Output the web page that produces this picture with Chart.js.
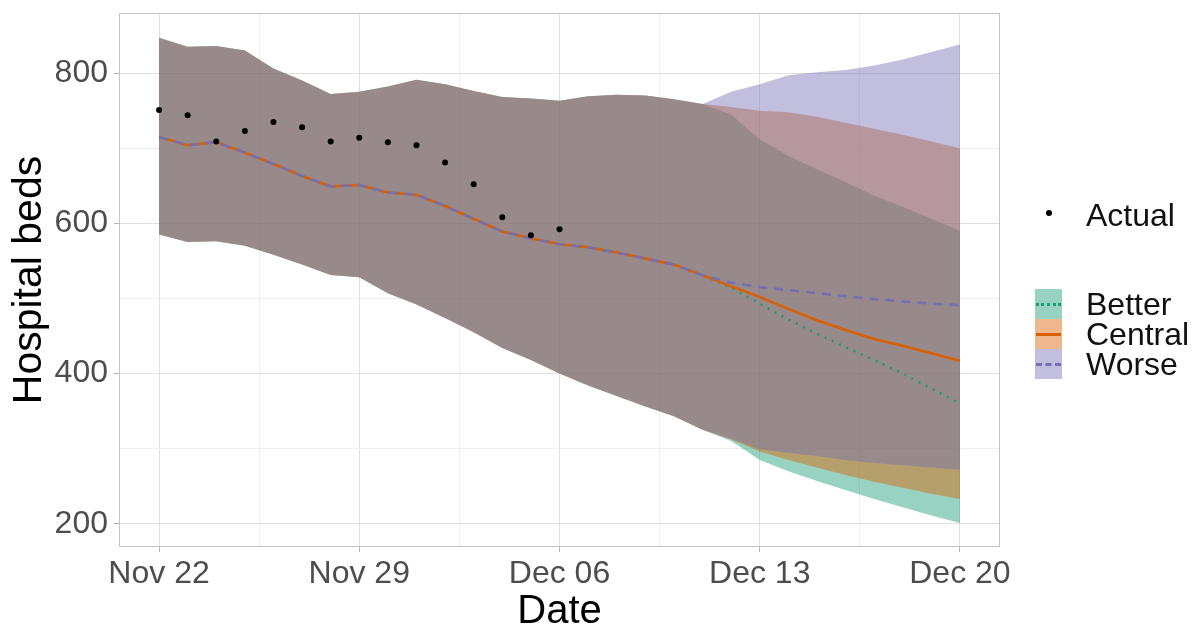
<!DOCTYPE html>
<html>
<head>
<meta charset="utf-8">
<script src="https://cdn.jsdelivr.net/npm/chart.js@4/dist/chart.umd.min.js"></script>
<style>
  body { margin: 0; background: #fff; font-family: "Liberation Sans", Arial, sans-serif; }
  #wrap { position: relative; width: 1193px; height: 628px; }
  .lg-text { position: absolute; left: 1086px; font-size: 32px; color: #111; line-height: 1; transform: translateY(-50%); white-space: nowrap; }
  .lg-key { position: absolute; left: 1035px; width: 27px; height: 30px; }
  .lg-key div { position: absolute; left: 1px; right: 1px; top: 14px; height: 0; }
</style>
</head>
<body>
<div id="wrap">
  <canvas id="beds" width="1193" height="628"></canvas>
  <div style="position:absolute;left:1046px;top:210px;width:6px;height:6px;border-radius:3px;background:#000"></div>
  <div class="lg-text" style="top:215px">Actual</div>
  <div class="lg-key" style="top:289px;background:rgba(27,158,119,0.45)"><div style="border-top:3px dotted #1B9E77"></div></div>
  <div class="lg-key" style="top:319px;background:rgba(217,95,2,0.45)"><div style="border-top:3px solid #D95F02"></div></div>
  <div class="lg-key" style="top:349px;background:rgba(117,112,179,0.45)"><div style="border-top:3px dashed #7570B3"></div></div>
  <div class="lg-text" style="top:304px">Better</div>
  <div class="lg-text" style="top:334px">Central</div>
  <div class="lg-text" style="top:364px">Worse</div>
</div>
<script>
// day 0 = Nov 22, one value per day
const dateLabels = ['Nov 22', 'Nov 29', 'Dec 06', 'Dec 13', 'Dec 20'];

const actual = [751, 744, 709, 723, 735, 728, 709, 714, 708, 704, 681, 652, 608, 584, 592];

const central = [715, 704, 708, 694, 679, 663, 649, 651, 641, 638, 623, 606, 589, 580, 572, 568, 561, 553, 545, 531,
                 516, 502, 486, 471, 458, 446, 437, 427, 417];
const better  = [715, 704, 708, 694, 679, 663, 649, 651, 641, 638, 623, 606, 589, 580, 572, 568, 561, 553, 545, 531,
                 514, 493, 472, 453, 435, 418, 400, 380, 360];
const worse   = [715, 704, 708, 694, 679, 663, 649, 651, 641, 638, 623, 606, 589, 580, 572, 568, 561, 553, 545, 531,
                 521, 515, 511, 507, 503, 499, 496, 493, 491];

const betterUpper  = [847, 835, 836, 830, 806, 790, 772, 775, 782, 791, 785, 776, 768, 766, 763, 769, 771, 770, 765, 759,
                      745, 712, 690, 672, 655, 637, 622, 606, 590];
const betterLower  = [585, 575, 576, 570, 558, 545, 531, 528, 507, 492, 474, 455, 434, 418, 400, 384, 370, 356, 343, 325,
                      310, 285, 270, 257, 245, 233, 222, 211, 201];
const centralUpper = [847, 835, 836, 830, 806, 790, 772, 775, 782, 791, 785, 776, 768, 766, 763, 769, 771, 770, 765, 759,
                      755, 750, 748, 742, 734, 726, 718, 709, 700];
const centralLower = [585, 575, 576, 570, 558, 545, 531, 528, 507, 492, 474, 455, 434, 418, 400, 384, 370, 356, 343, 325,
                      312, 296, 285, 275, 265, 256, 248, 240, 233];
const worseUpper   = [847, 835, 836, 830, 806, 790, 772, 775, 782, 791, 785, 776, 768, 766, 763, 769, 771, 770, 765, 759,
                      775, 785, 797, 801, 804, 810, 818, 828, 838];
const worseLower   = [585, 575, 576, 570, 558, 545, 531, 528, 507, 492, 474, 455, 434, 418, 400, 384, 370, 356, 343, 325,
                      313, 299, 294, 290, 285, 281, 278, 275, 272];

const yTicks = [200, 300, 400, 500, 600, 700, 800];
const yLabels = [200, 400, 600, 800];

const green = '#1B9E77', orange = '#D95F02', purple = '#7570B3';

const pts = arr => arr.map((v, i) => ({x: i, y: v}));

function ribbon(name, upper, lower, col, ord) {
    return [
        {label: name + ' upper', data: pts(upper), borderWidth: 0, pointRadius: 0,
         backgroundColor: col, fill: '+1', order: ord},
        {label: name + ' lower', data: pts(lower), borderWidth: 0, pointRadius: 0,
         fill: false, order: ord}
    ];
}

const panelBorder = {
    id: 'panelBorder',
    afterDraw(chart) {
        const {ctx, chartArea: a} = chart;
        ctx.save();
        ctx.strokeStyle = '#c4c4c4';
        ctx.lineWidth = 1;
        ctx.strokeRect(Math.round(a.left) + 0.5, Math.round(a.top) + 0.5,
                       Math.round(a.right - a.left) - 1, Math.round(a.bottom - a.top) - 1);
        ctx.restore();
    }
};

const isMajorX = v => Math.abs(v % 7) < 1e-6;
const isMajorY = v => v % 200 === 0;

new Chart(document.getElementById('beds'), {
    type: 'line',
    data: {
        datasets: [
            ...ribbon('Better', betterUpper, betterLower, 'rgba(27,158,119,0.45)', 12),
            ...ribbon('Central', centralUpper, centralLower, 'rgba(217,95,2,0.45)', 11),
            ...ribbon('Worse', worseUpper, worseLower, 'rgba(117,112,179,0.45)', 10),
            {label: 'Better', data: pts(better), borderColor: green, borderWidth: 2.6,
             borderDash: [2, 6], pointRadius: 0, fill: false, order: 5},
            {label: 'Central', data: pts(central), borderColor: orange, borderWidth: 2.6,
             pointRadius: 0, fill: false, order: 4},
            {label: 'Worse', data: pts(worse), borderColor: purple, borderWidth: 2.6,
             borderDash: [9, 7], pointRadius: 0, fill: false, order: 3},
            {label: 'Actual', data: pts(actual), showLine: false, pointRadius: 3,
             pointBackgroundColor: '#000', pointBorderWidth: 0, order: 0}
        ]
    },
    options: {
        responsive: false,
        animation: false,
        devicePixelRatio: 1,
        layout: {padding: {top: 13, right: 193, left: 0, bottom: 0}},
        elements: {line: {tension: 0}},
        plugins: {legend: {display: false}, tooltip: {enabled: false}},
        scales: {
            x: {
                type: 'linear', min: -1.4, max: 29.4,
                afterBuildTicks: s => { s.ticks = [0, 3.5, 7, 10.5, 14, 17.5, 21, 24.5, 28].map(v => ({value: v})); },
                afterFit: s => { s.height = 81; s.paddingLeft = 0; s.paddingRight = 0; },
                ticks: {
                    autoSkip: false, maxRotation: 0, padding: 3, color: '#4d4d4d',
                    font: {family: 'Liberation Sans', size: 32},
                    callback: v => isMajorX(v) ? dateLabels[v / 7] : ''
                },
                grid: {
                    color: c => isMajorX(c.tick.value) ? '#e0e0e0' : '#efefef',
                    tickColor: c => isMajorX(c.tick.value) ? '#b5b5b5' : 'rgba(0,0,0,0)',
                    tickLength: 5
                },
                border: {display: false},
                title: {display: true, text: 'Date', color: '#000',
                        font: {family: 'Liberation Sans', size: 40, lineHeight: 0.8}, padding: {top: 0, bottom: 0}}
            },
            y: {
                type: 'linear', min: 169, max: 880,
                afterBuildTicks: s => { s.ticks = yTicks.map(v => ({value: v})); },
                afterFit: s => { s.width = 119; s.paddingTop = 0; s.paddingBottom = 0; },
                ticks: {
                    padding: 6, color: '#4d4d4d',
                    font: {family: 'Liberation Sans', size: 32},
                    callback: v => yLabels.includes(v) ? String(v) : ''
                },
                grid: {
                    color: c => isMajorY(c.tick.value) ? '#e0e0e0' : '#efefef',
                    tickColor: c => isMajorY(c.tick.value) ? '#b5b5b5' : 'rgba(0,0,0,0)',
                    tickLength: 5
                },
                border: {display: false},
                title: {display: true, text: 'Hospital beds', color: '#000',
                        font: {family: 'Liberation Sans', size: 41, lineHeight: 1}, padding: {top: 9, bottom: 0}}
            }
        }
    },
    plugins: [panelBorder]
});
</script>
</body>
</html>
